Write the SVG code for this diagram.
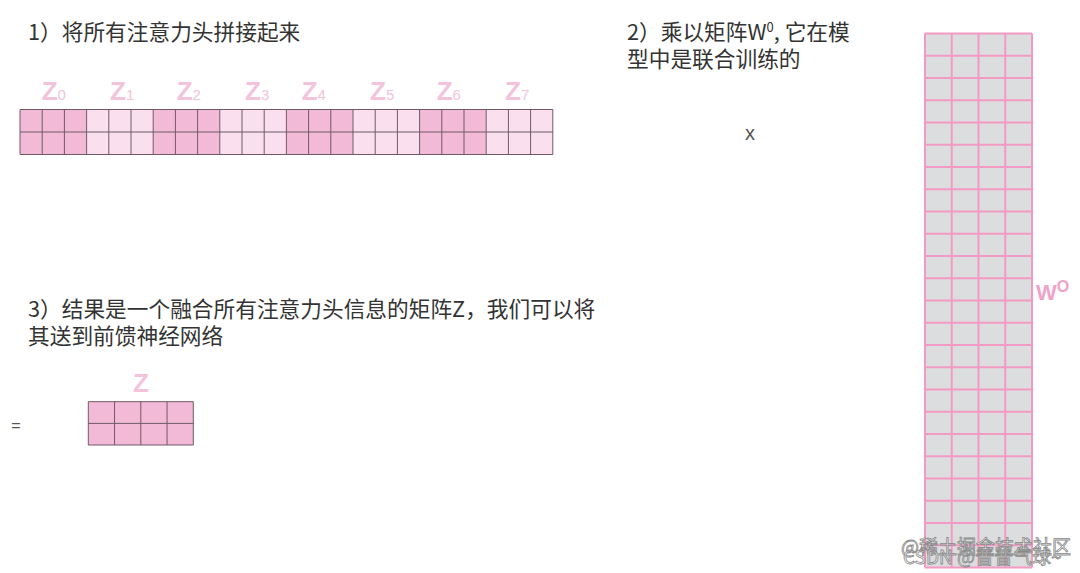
<svg xmlns="http://www.w3.org/2000/svg" width="1080" height="573" viewBox="0 0 1080 573">
<style>
.cap{font-family:"Noto Sans CJK SC","Noto Sans",sans-serif;font-size:21.7px;fill:#333}
.zl{font-family:"Liberation Sans",Arial,sans-serif;font-weight:bold;font-size:26px;fill:#f3c3db}
.sub{font-weight:normal;font-size:15px}
.dark{fill:#f3bad8}
.light{fill:#fae0ee}
.grid{fill:none;stroke:#6f5a66;stroke-width:1}
.wgrid{fill:none;stroke:#f39ac4;stroke-width:2}
.op{font-family:"Liberation Sans",Arial,sans-serif;fill:#555}
.wm{font-family:"Noto Sans CJK SC","Noto Sans",sans-serif;font-size:19px;fill:#fff;fill-opacity:0.6;stroke:#888;stroke-width:0.8}
</style>
<rect width="1080" height="573" fill="#fff"/>

<g id="caption1">
<text class="cap" x="28" y="40">1）将所有注意力头拼接起来</text>
</g>

<g id="caption2">
<text class="cap" x="627" y="40">2）乘以矩阵W<tspan font-size="13" dy="-8">0</tspan><tspan dy="8">, 它在模</tspan><tspan x="627" dy="26.5">型中是联合训练的</tspan></text>
</g>

<g id="caption3">
<text class="cap" x="28" y="316.5">3）结果是一个融合所有注意力头信息的矩阵Z，我们可以将<tspan x="28" dy="27.5">其送到前馈神经网络</tspan></text>
</g>

<g id="concat-matrix">
<g class="labels">
<text class="zl" x="41.7" y="99.5">Z<tspan class="sub">0</tspan></text>
<text class="zl" x="110" y="99.5">Z<tspan class="sub">1</tspan></text>
<text class="zl" x="176.7" y="99.5">Z<tspan class="sub">2</tspan></text>
<text class="zl" x="245" y="99.5">Z<tspan class="sub">3</tspan></text>
<text class="zl" x="301.7" y="99.5">Z<tspan class="sub">4</tspan></text>
<text class="zl" x="370" y="99.5">Z<tspan class="sub">5</tspan></text>
<text class="zl" x="436.7" y="99.5">Z<tspan class="sub">6</tspan></text>
<text class="zl" x="505" y="99.5">Z<tspan class="sub">7</tspan></text>
</g>
<rect class="dark" x="20" y="109.5" width="66.6" height="45"/>
<rect class="light" x="86.6" y="109.5" width="66.6" height="45"/>
<rect class="dark" x="153.2" y="109.5" width="66.6" height="45"/>
<rect class="light" x="219.8" y="109.5" width="66.6" height="45"/>
<rect class="dark" x="286.4" y="109.5" width="66.6" height="45"/>
<rect class="light" x="353" y="109.5" width="66.6" height="45"/>
<rect class="dark" x="419.6" y="109.5" width="66.6" height="45"/>
<rect class="light" x="486.2" y="109.5" width="66.6" height="45"/>
<path class="grid" d="M20 109.5H552.8M20 132H552.8M20 154.5H552.8M20 109.5V154.5M42.2 109.5V154.5M64.4 109.5V154.5M86.6 109.5V154.5M108.8 109.5V154.5M131 109.5V154.5M153.2 109.5V154.5M175.4 109.5V154.5M197.6 109.5V154.5M219.8 109.5V154.5M242 109.5V154.5M264.2 109.5V154.5M286.4 109.5V154.5M308.6 109.5V154.5M330.8 109.5V154.5M353 109.5V154.5M375.2 109.5V154.5M397.4 109.5V154.5M419.6 109.5V154.5M441.8 109.5V154.5M464 109.5V154.5M486.2 109.5V154.5M508.4 109.5V154.5M530.6 109.5V154.5M552.8 109.5V154.5"/>
</g>

<g id="times">
<text class="op" x="750" y="140" font-size="20" text-anchor="middle">x</text>
</g>

<g id="wo-matrix">
<rect x="925" y="33.5" width="107" height="534" fill="#dcdddf"/>
<path class="wgrid" d="M925 33.5V567.5M951.75 33.5V567.5M978.5 33.5V567.5M1005.25 33.5V567.5M1032 33.5V567.5M925 33.5H1032M925 55.75H1032M925 78H1032M925 100.25H1032M925 122.5H1032M925 144.75H1032M925 167H1032M925 189.25H1032M925 211.5H1032M925 233.75H1032M925 256H1032M925 278.25H1032M925 300.5H1032M925 322.75H1032M925 345H1032M925 367.25H1032M925 389.5H1032M925 411.75H1032M925 434H1032M925 456.25H1032M925 478.5H1032M925 500.75H1032M925 523H1032M925 545.25H1032M925 567.5H1032"/>
<text x="1036" y="300" font-family="Liberation Sans, Arial, sans-serif" font-weight="bold" font-size="22" fill="#f0a3c9">W<tspan font-size="16" dy="-8">O</tspan></text>
</g>

<g id="equals">
<text class="op" x="16" y="431" font-size="16" text-anchor="middle">=</text>
</g>

<g id="result-matrix">
<text class="zl" x="141" y="392" text-anchor="middle">Z</text>
<rect x="88.3" y="401.7" width="105" height="43.3" fill="#f3bad8"/>
<path class="grid" d="M88.3 401.7H193.3M88.3 423.4H193.3M88.3 445H193.3M88.3 401.7V445M114.55 401.7V445M140.8 401.7V445M167.05 401.7V445M193.3 401.7V445"/>
</g>

<g id="watermark">
<text class="wm" x="901" y="554">@稀土掘金技术社区</text>
<text class="wm" x="903" y="564">CSDN @普普气球~</text>
</g>
</svg>
